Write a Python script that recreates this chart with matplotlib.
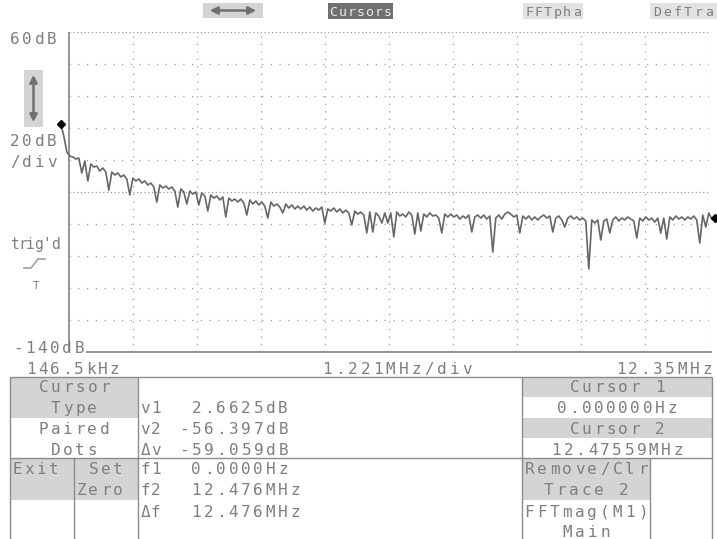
"""Scope screen: FFT magnitude with paired cursors."""
import matplotlib
matplotlib.use("Agg")
import matplotlib.pyplot as plt
import numpy as np
from matplotlib.patches import Rectangle

# --- data ---------------------------------------------------------------
X_START_MHZ = 0.1465      # left edge
X_DIV_MHZ = 1.221         # per division
Y_TOP_DB = 60
Y_BOTTOM_DB = -140
BIN_MHZ = 0.05723         # FFT bin spacing

trace_db = [
    2.66, -5.0, -15.0, -17.5, -18.1, -19.4, -18.8, -28.1, -20.6, -33.1,
    -22.5, -24.4, -23.8, -26.9, -25.0, -27.5, -38.8, -27.5, -29.4, -28.1,
    -30.6, -29.4, -31.9, -41.9, -31.3, -33.1, -31.9, -34.4, -33.1, -35.6,
    -34.4, -36.9, -46.3, -35.6, -37.5, -36.3, -38.1, -36.9, -39.4, -49.4,
    -38.1, -40.0, -47.5, -39.4, -41.3, -40.0, -48.1, -40.6, -42.5, -51.9,
    -41.9, -43.8, -42.5, -45.0, -43.1, -55.6, -43.8, -45.6, -44.4, -46.3,
    -44.4, -46.9, -54.4, -45.0, -47.5, -45.6, -48.1, -46.3, -48.8, -56.3,
    -46.3, -48.8, -47.5, -49.4, -53.1, -47.5, -50.0, -48.1, -50.6, -48.8,
    -50.6, -48.8, -51.3, -49.4, -51.9, -50.0, -51.3, -49.4, -59.4, -50.6,
    -51.9, -50.0, -52.5, -50.6, -53.1, -51.3, -53.1, -60.6, -51.9, -53.8,
    -52.5, -54.4, -65.6, -52.5, -65.0, -53.1, -55.0, -59.4, -53.1, -59.4,
    -53.1, -68.1, -52.5, -55.0, -53.8, -55.6, -52.5, -54.4, -66.3, -53.1,
    -64.4, -53.8, -55.6, -53.1, -55.0, -54.4, -56.3, -65.6, -53.8, -55.6,
    -53.8, -55.6, -54.4, -56.9, -55.0, -56.3, -54.4, -65.0, -55.6, -54.4,
    -56.3, -54.4, -56.9, -55.0, -77.5, -56.3, -54.4, -56.9, -53.8, -52.5,
    -53.8, -55.6, -54.4, -65.6, -55.0, -56.9, -55.0, -57.5, -55.6, -57.5,
    -55.6, -54.4, -56.3, -55.0, -65.0, -56.3, -55.0, -57.5, -61.9, -56.3,
    -55.0, -56.9, -55.6, -57.5, -56.3, -58.1, -88.1, -57.5, -59.4, -57.5,
    -70.0, -58.1, -56.9, -65.6, -57.5, -55.6, -58.1, -56.3, -57.5, -55.6,
    -56.9, -58.1, -68.8, -56.3, -58.1, -55.6, -57.5, -56.3, -58.8, -56.3,
    -65.6, -56.3, -69.4, -55.6, -57.5, -55.0, -56.9, -55.6, -57.5, -55.6,
    -56.9, -55.0, -57.5, -71.9, -54.4, -61.9, -53.1, -56.9, -56.4,
]

cursor_mhz = [0.0, 12.476]
cursor_db = [2.6625, -56.397]

left_labels = ["Cursor", "Type", "Paired", "Dots"]
readout_names = ["v1", "v2", "\u0394v", "f1", "f2", "\u0394f"]
readout_values = ["2.6625dB", "-56.397dB", "-59.059dB",
                  "0.0000Hz", "12.476MHz", "12.476MHz"]
right_labels = ["Cursor 1", "0.000000Hz", "Cursor 2", "12.47559MHz"]
bottom_right = ["Remove/Clr", "Trace 2", "FFTmag(M1)", "Main"]

W, H = 717, 539
TXT = "#7e7e7e"
GRID = "#9a9a9a"
SHADE = "#d4d4d4"
LINE = "#8c8c8c"
TRACE = "#666666"

fig = plt.figure(figsize=(W / 100, H / 100), dpi=100)
ov = fig.add_axes([0, 0, 1, 1])
ov.set_xlim(0, W)
ov.set_ylim(H, 0)
ov.axis("off")


def mono(x, y, s, pitch=12.2, size=11.5, color=TXT, align="left"):
    """Fixed-pitch screen text; y is the vertical centre of the caps."""
    n = len(s)
    if align == "center":
        x0 = x - n * pitch / 2
    elif align == "right":
        x0 = x - n * pitch
    else:
        x0 = x
    for k, ch in enumerate(s):
        ov.text(x0 + (k + 0.5) * pitch, y + 5.8, ch, ha="center", va="baseline",
                family="DejaVu Sans Mono", fontsize=size, color=color)


def box(x0, y0, x1, y1, fc=SHADE):
    ov.add_patch(Rectangle((x0, y0), x1 - x0, y1 - y0, facecolor=fc,
                           edgecolor="none", zorder=0))


def seg(x0, y0, x1, y1, lw=1.0):
    ov.plot([x0, x1], [y0, y1], color=LINE, lw=lw, solid_capstyle="butt")


# --- top soft-key row ---------------------------------------------------
box(203, 3, 263, 18)
ov.annotate("", xy=(259, 10.5), xytext=(207, 10.5),
            arrowprops=dict(arrowstyle="<|-|>", color="#707070", lw=1.8,
                            mutation_scale=11))
box(328, 3, 393, 19, fc="#707070")
mono(360.5, 10.5, "Cursors", pitch=9.0, size=9.5, color="#e8e8e8", align="center")
box(523, 3, 583, 19, fc="#e2e2e2")
mono(553, 10.5, "FFTpha", pitch=9.5, size=9.5, align="center")
box(650, 3, 717, 19, fc="#e2e2e2")
mono(683, 10.5, "DefTra", pitch=10.5, size=9.5, align="center")

# --- left side annotations ----------------------------------------------
mono(9, 38, "60dB")
box(24, 70, 43, 127)
ov.annotate("", xy=(33.5, 72), xytext=(33.5, 125),
            arrowprops=dict(arrowstyle="<|-|>", color="#707070", lw=1.8,
                            mutation_scale=11))
mono(9, 140, "20dB")
mono(9, 161, "/div")
mono(10, 243, "trig'd", pitch=8.2, size=10.5)
ov.plot([24, 31, 38, 45], [268, 268, 259, 259], color="#a0a0a0", lw=1.2)
mono(36, 283, "T", pitch=8, size=8, align="center")
mono(12, 347, "-140dB")
mono(25, 368, "146.5kHz", pitch=11.9)
mono(397, 368, "1.221MHz/div", pitch=12.7, align="center")
mono(713, 368, "12.35MHz", pitch=12.3, align="right")

# --- plot frame -----------------------------------------------------------
seg(68.5, 32, 68.5, 352, lw=1.3)
seg(86, 352, 712, 352, lw=1.3)

# --- trace ----------------------------------------------------------------
ax = fig.add_axes([68.5 / W, 1 - 352 / H, 640 / W, 320 / H])
x_end = X_START_MHZ + 10 * X_DIV_MHZ
ax.set_xlim(X_START_MHZ, x_end)
ax.set_ylim(Y_BOTTOM_DB, Y_TOP_DB)
ax.axis("off")
ax.patch.set_alpha(0)

for k in range(1, 11):
    ax.axvline(X_START_MHZ + k * X_DIV_MHZ, color=GRID, lw=0.9,
               ls=(0, (1, 5)), zorder=1)
for db in range(Y_BOTTOM_DB + 20, Y_TOP_DB + 1, 20):
    dense = db in (-40, 60)
    ax.axhline(db, color=GRID, lw=0.9, ls=(0, (1, 2)) if dense else (0, (1, 6)),
               zorder=1)

freq_mhz = np.arange(len(trace_db)) * BIN_MHZ
ax.plot(freq_mhz, trace_db, color=TRACE, lw=1.2, clip_on=False, zorder=3)
ax.plot(cursor_mhz, cursor_db, ls="none", marker="D", ms=4.5, color="black",
        clip_on=False, zorder=4)

# --- cursor readout table -------------------------------------------------
TOP, MID, BOT = 377, 458, 539
box(10, TOP, 138, 418)
box(10, MID, 74, 500)
box(74, MID, 138, 500)
box(522, TOP, 712, 397)
box(522, 418, 712, 438)
box(522, MID, 650, 500)

seg(10, TOP, 712, TOP)
seg(10, MID, 712, MID)
for x in (10, 138, 522, 712):
    seg(x, TOP, x, BOT)
for x in (74, 650):
    seg(x, MID, x, BOT)

rows = [386, 407, 428, 449, 468, 489, 511, 531]
for y, s in zip(rows[:4], left_labels):
    mono(74, y, s, align="center")
mono(11, rows[4], "Exit")
mono(106, rows[4], "Set", align="center")
mono(75, rows[5], "Zero")

for k, (name, val) in enumerate(zip(readout_names, readout_values)):
    y = rows[k + 1]
    mono(140, y, name, pitch=10.5)
    x_val = 190 if not val.startswith("-") else 178
    mono(x_val, y, val, pitch=12.4)

for y, s in zip(rows[:4], right_labels):
    mono(617, y, s, align="center")
mono(523, rows[4], "Remove/Clr", pitch=12.6)
for y, s in zip(rows[5:], bottom_right[1:]):
    mono(586, y, s, pitch=12.6, align="center")

fig.savefig("out.png", dpi=100)
